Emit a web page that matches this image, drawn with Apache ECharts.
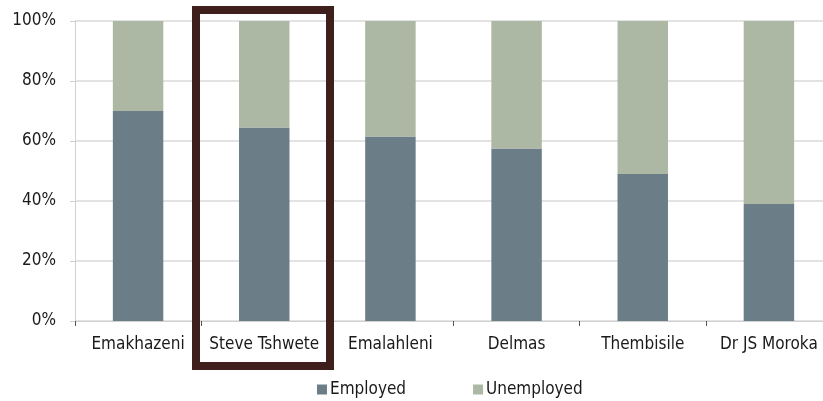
<!DOCTYPE html>
<html>
<head>
<meta charset="utf-8">
<script src="https://cdn.jsdelivr.net/npm/echarts@6/dist/echarts.min.js"></script>
<style>
  html, body { margin: 0; padding: 0; background: #fff; overflow: hidden; }
  #chart { width: 832px; height: 401px; }
</style>
</head>
<body>
<div id="chart"></div>
<script>
// chart runs a bit past the right edge of the frame, like the source image
const categories = ['Emakhazeni', 'Steve Tshwete', 'Emalahleni', 'Delmas', 'Thembisile', 'Dr JS Moroka']
const employed = [70, 64.5, 61.5, 57.5, 49, 39]
const unemployed = [30, 35.5, 38.5, 42.5, 51, 61]
const yTicks = [0, 20, 40, 60, 80, 100]

const font = "'Liberation Sans Narrow', 'DejaVu Sans Condensed', sans-serif"
const chart = echarts.init(document.getElementById('chart'))

chart.setOption({
  animation: false,
  textStyle: { fontFamily: font },
  grid: { left: 75, right: 0, top: 21, bottom: 80 },
  legend: {
    left: 312,
    top: 376,
    itemWidth: 10,
    itemHeight: 10,
    itemGap: 67,
    icon: 'rect',
    textStyle: { fontSize: 17, color: '#1a1a1a', fontFamily: font, padding: [0, 0, 0, -2] },
    data: ['Employed', 'Unemployed']
  },
  xAxis: {
    type: 'category',
    data: categories,
    axisLine: { lineStyle: { color: '#d0d0d0', width: 1 } },
    axisTick: { show: true, length: 5, interval: 0, lineStyle: { color: '#555' } },
    axisLabel: { fontSize: 17, color: '#1a1a1a', margin: 15, interval: 0, fontFamily: font }
  },
  yAxis: {
    type: 'value',
    min: yTicks[0],
    max: yTicks[yTicks.length - 1],
    interval: 20,
    axisLine: { show: true, lineStyle: { color: '#d0d0d0' } },
    axisTick: { show: true, length: 5, lineStyle: { color: '#d0d0d0' } },
    axisLabel: { fontSize: 17, color: '#1a1a1a', margin: 19, formatter: '{value}%', fontFamily: font },
    splitLine: { lineStyle: { color: '#dadada', width: 1.5 } }
  },
  series: [
    {
      name: 'Employed',
      type: 'bar',
      stack: 'total',
      barWidth: '40%',
      itemStyle: { color: '#6b7e88' },
      data: employed
    },
    {
      name: 'Unemployed',
      type: 'bar',
      stack: 'total',
      barWidth: '40%',
      itemStyle: { color: '#adb8a4' },
      data: unemployed
    }
  ],
  graphic: [
    {
      type: 'rect',
      shape: { x: 196, y: 10, width: 134, height: 356 },
      style: { fill: 'none', stroke: '#3e1f1c', lineWidth: 8 },
      z: 100
    }
  ]
})
</script>
</body>
</html>
